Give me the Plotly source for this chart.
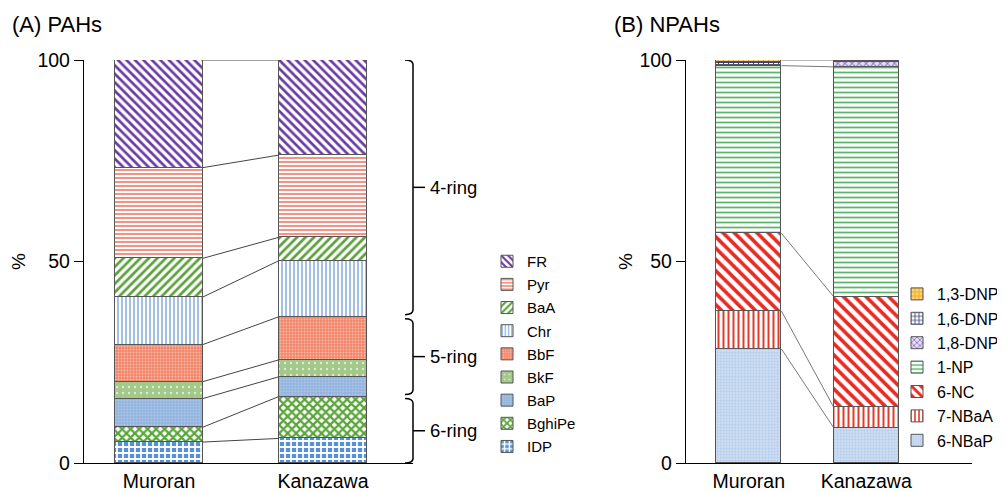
import plotly.graph_objects as go

# ---------------- data ----------------
sites = ["Muroran", "Kanazawa"]

pah_names = ["IDP", "BghiPe", "BaP", "BkF", "BbF", "Chr", "BaA", "Pyr", "FR"]  # bottom -> top
pah_muroran = [5.2, 3.7, 7.1, 4.2, 9.2, 11.8, 9.6, 22.5, 26.7]
pah_kanazawa = [6.1, 10.4, 4.9, 4.2, 10.7, 13.9, 5.8, 20.4, 23.6]

ring_groups = [("4-ring", ["FR", "Pyr", "BaA", "Chr"]),
               ("5-ring", ["BbF", "BkF", "BaP"]),
               ("6-ring", ["BghiPe", "IDP"])]

npah_names = ["6-NBaP", "7-NBaA", "6-NC", "1-NP", "1,8-DNP", "1,6-DNP", "1,3-DNP"]  # bottom -> top
npah_muroran = [28.3, 9.4, 19.3, 41.6, 0.2, 0.6, 0.6]
npah_kanazawa = [8.8, 5.1, 27.4, 57.0, 1.3, 0.2, 0.2]
npah_connect = ["6-NBaP", "7-NBaA", "6-NC", "1-NP", "1,3-DNP"]

y_ticks = [0, 50, 100]

# ---------------- styles ----------------
pah_style = {
    "FR": dict(shape="\\", fgcolor="#6A3CA2", bgcolor="white", size=6, solidity=0.45, fgopacity=1),
    "Pyr": dict(shape="-", fgcolor="#F27866", bgcolor="white", size=4, solidity=0.4, fgopacity=1),
    "BaA": dict(shape="/", fgcolor="#5BA23C", bgcolor="white", size=6, solidity=0.45, fgopacity=1),
    "Chr": dict(shape="|", fgcolor="#7AA4DA", bgcolor="white", size=4, solidity=0.35, fgopacity=1),
    "BbF": dict(shape=".", fgcolor="#F8BBAA", bgcolor="#F28468", size=3, solidity=0.35, fgopacity=1),
    "BkF": dict(shape=".", fgcolor="#DDEBD2", bgcolor="#A2C88A", size=6, solidity=0.12, fgopacity=1),
    "BaP": dict(shape=".", fgcolor="#ADC7E8", bgcolor="#93B4DF", size=3, solidity=0.3, fgopacity=1),
    "BghiPe": dict(shape="x", fgcolor="#5AA53A", bgcolor="white", size=6, solidity=0.6, fgopacity=1),
    "IDP": dict(shape="+", fgcolor="white", bgcolor="#5690D8", size=6, solidity=0.5, fgopacity=1),
}
npah_style = {
    "6-NBaP": dict(shape=".", fgcolor="#B5CBEA", bgcolor="#CCDDF2", size=3, solidity=0.3, fgopacity=1),
    "7-NBaA": dict(shape="|", fgcolor="#E03A2A", bgcolor="white", size=5, solidity=0.4, fgopacity=1),
    "6-NC": dict(shape="\\", fgcolor="#E82A22", bgcolor="white", size=8, solidity=0.45, fgopacity=1),
    "1-NP": dict(shape="-", fgcolor="#58B668", bgcolor="white", size=5, solidity=0.35, fgopacity=1),
    "1,8-DNP": dict(shape="x", fgcolor="#8466C4", bgcolor="#E6DDF5", size=5, solidity=0.35, fgopacity=1),
    "1,6-DNP": dict(shape="+", fgcolor="#34348A", bgcolor="white", size=5, solidity=0.35, fgopacity=1),
    "1,3-DNP": dict(shape="+", fgcolor="#EE9A20", bgcolor="#FBD66E", size=5, solidity=0.35, fgopacity=1),
}

FONT = "Liberation Sans, Arial, Helvetica, sans-serif"
W_L = 0.537
W_R = 0.556
FW, FH = 1005, 492
OFF = 8  # page body margin offset


def px(x):
    return (x - OFF) / FW


def py(y):
    return 1 - (y - OFF) / FH


fig = go.Figure()

# ---------------- (A) PAHs ----------------
n_a = len(pah_names)
for i, (name, m, k) in enumerate(zip(pah_names, pah_muroran, pah_kanazawa)):
    fig.add_trace(go.Bar(
        x=[0, 1], y=[m, k], name=name, width=W_L, legendgroup=name, legendrank=n_a - i,
        marker=dict(color=pah_style[name]["bgcolor"], pattern=pah_style[name],
                    line=dict(color="#555555", width=1)),
        xaxis="x", yaxis="y", legend="legend", hoverinfo="name+y"))

cm, ck = 0, 0
for m, k in zip(pah_muroran, pah_kanazawa):
    cm += m
    ck += k
    fig.add_trace(go.Scatter(x=[W_L / 2, 1 - W_L / 2], y=[cm, ck], mode="lines",
                             line=dict(color="#444444", width=1), showlegend=False,
                             hoverinfo="skip", xaxis="x", yaxis="y"))

# braces based on Kanazawa cumulative values
kcum = {}
acc = 0
for name, k in zip(pah_names, pah_kanazawa):
    kcum[name] = (acc, acc + k)
    acc += k
bx = px(413)
hook = 8 / FW
tick = 12 / FW
shapes = []
annotations = []
for label, members in ring_groups:
    lo = min(kcum[n][0] for n in members)
    hi = max(kcum[n][1] for n in members)
    top = hi - (0.5 if hi < 99.9 else 0)
    bot = lo + (0.5 if lo > 0.1 else 0)
    mid = (top + bot) / 2
    shapes.append(dict(type="path", xref="paper", yref="y",
                       path=f"M {bx-hook},{top} Q {bx},{top} {bx},{top-1.2} L {bx},{bot+1.2} Q {bx},{bot} {bx-hook},{bot}",
                       line=dict(color="black", width=1.5)))
    shapes.append(dict(type="line", xref="paper", yref="y", x0=bx, x1=bx + tick, y0=mid, y1=mid,
                       line=dict(color="black", width=1.5)))
    annotations.append(dict(x=bx + tick + 3 / FW, y=mid, xref="paper", yref="y", text=label, showarrow=False,
                            xanchor="left", yanchor="middle", font=dict(size=18.5, family=FONT, color="black")))

# ---------------- (B) NPAHs ----------------
n_b = len(npah_names)
for i, (name, m, k) in enumerate(zip(npah_names, npah_muroran, npah_kanazawa)):
    fig.add_trace(go.Bar(
        x=[0, 1], y=[m, k], name=name, width=W_R, legendgroup=name, legendrank=n_b - i,
        marker=dict(color=npah_style[name]["bgcolor"], pattern=npah_style[name],
                    line=dict(color="#555555", width=1)),
        xaxis="x2", yaxis="y2", legend="legend2", hoverinfo="name+y"))

cm, ck = 0, 0
for name, m, k in zip(npah_names, npah_muroran, npah_kanazawa):
    cm += m
    ck += k
    if name in npah_connect:
        fig.add_trace(go.Scatter(x=[W_R / 2, 1 - W_R / 2], y=[cm, ck], mode="lines",
                                 line=dict(color="#555555", width=0.8), showlegend=False,
                                 hoverinfo="skip", xaxis="x2", yaxis="y2"))

# titles and axis labels
annotations += [
    dict(x=px(10), y=py(25), xref="paper", yref="paper", text="(A) PAHs", showarrow=False,
         xanchor="left", yanchor="middle", font=dict(size=22, family=FONT, color="black")),
    dict(x=px(612), y=py(25), xref="paper", yref="paper", text="(B) NPAHs", showarrow=False,
         xanchor="left", yanchor="middle", font=dict(size=22, family=FONT, color="black")),
    dict(x=px(18), y=py(262), xref="paper", yref="paper", text="%", showarrow=False,
         textangle=-90, xanchor="center", yanchor="middle", font=dict(size=19, family=FONT, color="black")),
    dict(x=px(625), y=py(262), xref="paper", yref="paper", text="%", showarrow=False,
         textangle=-90, xanchor="center", yanchor="middle", font=dict(size=19, family=FONT, color="black")),
]

ydom = [py(463), py(60)]
axis_common = dict(showgrid=False, zeroline=False, showline=True, linecolor="black", linewidth=1.3)
tickfont = dict(size=19.5, family=FONT, color="black")

fig.update_layout(
    width=FW, height=FH,
    margin=dict(l=0, r=0, t=0, b=0, autoexpand=False),
    paper_bgcolor="white", plot_bgcolor="white",
    barmode="stack", bargap=0,
    font=dict(family=FONT, color="black"),
    xaxis=dict(domain=[px(84), px(413)], range=[-0.457, 1.549], tickvals=[0, 1], ticktext=sites,
               ticks="", tickfont=tickfont, anchor="y", **axis_common),
    yaxis=dict(domain=ydom, range=[0, 100], tickvals=y_ticks, ticks="outside", ticklen=9, tickwidth=1.3,
               tickcolor="black", tickfont=tickfont, anchor="x", **axis_common),
    xaxis2=dict(domain=[px(686), px(972)], range=[-0.534, 1.90], tickvals=[0, 1], ticktext=sites,
                ticks="", tickfont=tickfont, anchor="y2", **axis_common),
    yaxis2=dict(domain=ydom, range=[0, 100], tickvals=y_ticks, ticks="outside", ticklen=9, tickwidth=1.3,
                tickcolor="black", tickfont=tickfont, anchor="x2", **axis_common),
    legend=dict(x=px(487), y=py(245), xanchor="left", yanchor="top",
                traceorder="grouped", tracegroupgap=0.65,
                font=dict(size=15, family=FONT, color="black"), bgcolor="rgba(0,0,0,0)"),
    legend2=dict(x=px(897), y=py(277), xanchor="left", yanchor="top",
                 traceorder="grouped", tracegroupgap=0.6,
                 font=dict(size=16, family=FONT, color="black"), bgcolor="rgba(0,0,0,0)"),
    shapes=shapes,
    annotations=annotations,
    showlegend=True,
)

fig.write_html("out.html")
